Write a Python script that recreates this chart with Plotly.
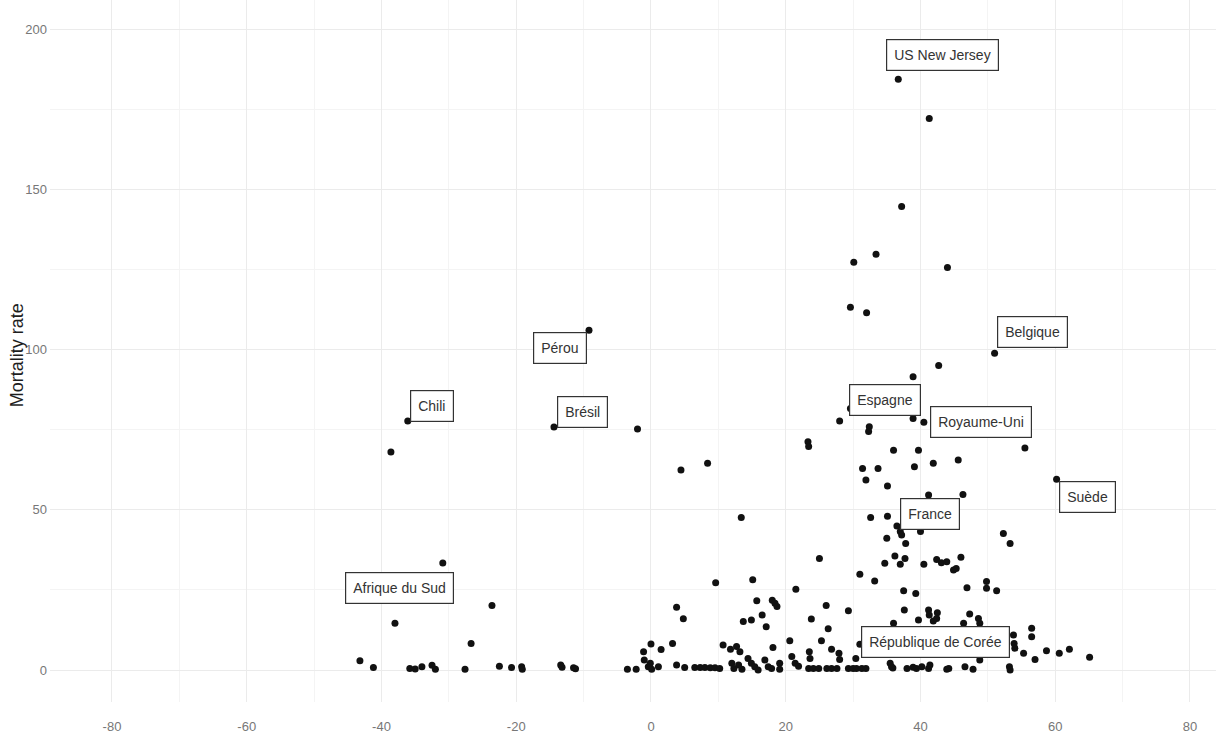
import plotly.graph_objects as go

# Latitude (degrees) and mortality rate for each region
latitude = [
    -43.2, -41.2, -38.6, -38.0, -35.8, -35.0, -34.0, -32.5, -32.0, -27.6,
    -26.7, -23.6, -22.5, -20.7, -19.2, -19.1, -13.4, -13.2, -11.5, -11.2,
    -3.5, -2.2, -2.0, -1.1, -1.0, 0.0, -0.4, 0.1, -0.1, 1.1,
    1.5, 3.2, 3.8, 5.0, 3.8, 4.8, 4.45, 8.4, 6.5, 7.3,
    8.0, 8.8, 9.5, 10.2, 9.6, 10.7, 11.8, 12.7, 13.2, 12.0,
    12.3, 13.0, 13.5, 13.4, 13.7, 14.9, 14.4, 14.9, 15.4, 15.9,
    15.1, 15.7, 16.5, 17.1, 16.9, 17.4, 17.9, 18.0, 18.4, 18.7,
    18.1, 19.1, 19.1, 20.6, 20.9, 21.4, 21.9, 21.5, 23.3, 23.4,
    23.8, 23.5, 23.6, 23.4, 24.1, 24.9, 25.0, 25.3, 26.0, 26.3,
    26.8, 26.1, 26.8, 27.6, 27.9, 28.0, 28.0, 29.3, 29.6, 29.6,
    30.1, 30.4, 31.0, 29.3, 30.0, 30.5, 31.3, 31.9, 31.0, 31.4,
    31.9, 32.0, 32.4, 32.3, 32.6, 33.2, 33.4, 33.7, 34.7, 35.0,
    35.1, 35.1, 35.5, 35.7, 36.0, 36.0, 36.2, 36.5, 37.0, 37.2,
    37.0, 37.7, 37.2, 37.5, 37.6, 37.8, 38.0, 38.9, 39.4, 40.2,
    41.2, 38.9, 38.9, 39.1, 39.3, 39.7, 39.7, 40.0, 40.5, 41.2,
    41.2, 41.3, 41.3, 41.9, 41.9, 42.4, 42.5, 42.4, 42.7, 43.1,
    43.9, 43.9, 44.0, 44.9, 45.3, 45.6, 46.0, 46.4, 46.6, 46.9,
    47.3, 47.8, 48.6, 48.8, 48.8, 49.8, 49.8, 51.3, 52.3, 53.2,
    53.3, 53.3, 53.8, 53.9, 54.0, 55.3, 56.5, 56.5, 57.0, 58.7,
    60.6, 62.1, 65.1, 41.4, 44.2,
]
mortality = [
    2.9, 0.8, 68.0, 14.6, 0.5, 0.3, 1.0, 1.5, 0.2, 0.2,
    8.3, 20.1, 1.2, 0.8, 1.0, 0.2, 1.6, 0.9, 0.7, 0.4,
    0.2, 0.2, 75.2, 5.7, 3.1, 8.1, 1.0, 0.2, 2.1, 1.0,
    6.4, 8.3, 1.6, 0.8, 19.6, 16.0, 62.4, 64.5, 0.8, 0.8,
    0.8, 0.7, 0.7, 0.5, 27.2, 7.8, 6.5, 7.3, 5.7, 2.1,
    0.5, 1.6, 0.2, 47.6, 15.1, 15.6, 3.6, 2.1, 1.0, 0.0,
    28.2, 21.6, 17.2, 13.5, 3.1, 1.0, 0.5, 21.8, 20.8, 19.8,
    7.0, 2.1, 0.2, 9.1, 4.2, 2.1, 1.2, 25.2, 71.2, 69.7,
    15.9, 5.7, 3.6, 0.5, 0.5, 0.5, 34.8, 9.1, 20.1, 12.9,
    6.5, 0.5, 0.5, 0.5, 5.2, 3.3, 77.7, 18.5, 81.6, 113.2,
    127.2, 3.6, 8.0, 0.5, 0.5, 0.5, 0.5, 0.5, 29.9, 62.9,
    59.3, 111.5, 75.9, 74.4, 47.6, 27.8, 129.7, 62.9, 33.3, 41.1,
    48.0, 57.4, 2.1, 1.0, 14.6, 68.6, 35.6, 44.9, 43.2, 42.1,
    33.0, 34.8, 144.6, 24.7, 18.7, 39.5, 0.5, 0.9, 0.5, 1.0,
    0.5, 78.5, 91.5, 63.4, 23.9, 68.6, 15.6, 43.2, 33.0, 54.6,
    18.7, 17.2, 172.1, 64.5, 15.3, 34.5, 17.9, 16.1, 95.0, 33.5,
    33.8, 0.2, 125.6, 31.2, 31.7, 65.5, 35.2, 14.6, 1.0, 25.7,
    17.5, 0.2, 16.1, 14.6, 3.1, 27.6, 25.5, 24.7, 42.6, 1.0,
    0.0, 39.5, 10.9, 8.3, 6.8, 5.2, 13.0, 10.4, 3.3, 6.0,
    5.2, 6.5, 4.0, 1.6, 0.5,
]

# Named regions
label_country = ["US New Jersey", "Chili", "Pérou", "Brésil", "Afrique du Sud",
                 "Belgique", "Espagne", "Royaume-Uni", "France", "Suède",
                 "République de Corée"]
label_lat = [36.7, -36.1, -9.2, -14.4, -30.9, 51.0, 40.5, 55.5, 46.3, 60.2, 35.9]
label_rate = [184.3, 77.7, 106.0, 75.8, 33.4, 98.8, 77.3, 69.3, 54.8, 59.5, 0.6]
# label box offsets from their point, in pixels (repelled placement)
label_dx = [44, 24.5, -29.5, 28.5, -43, 37.5, -38.5, -43.5, -32.5, 30.5, 43]
label_dy = [-24.5, -14.5, 18, -15.5, 25, -21, -22.5, -26, 19.5, 18, -26]

x_ticks = [-80, -60, -40, -20, 0, 20, 40, 60, 80]
y_ticks = [0, 50, 100, 150, 200]

SANS = "Liberation Sans, Arial, sans-serif"

fig = go.Figure()
fig.add_trace(go.Scatter(
    x=latitude + label_lat, y=mortality + label_rate,
    mode="markers",
    marker=dict(color="#111111", size=7, line=dict(width=0)),
    hoverinfo="skip", showlegend=False,
))

for name, lx, ly, dx, dy in zip(label_country, label_lat, label_rate, label_dx, label_dy):
    fig.add_annotation(
        x=lx, y=ly, xref="x", yref="y",
        text=name, showarrow=True, arrowcolor="rgba(0,0,0,0)", arrowwidth=0.1,
        ax=dx, ay=dy, xanchor="center", yanchor="middle",
        font=dict(family=SANS, size=14, color="#333333"),
        bgcolor="white", bordercolor="#333333", borderwidth=1.2, borderpad=7,
    )

fig.add_annotation(
    text="Mortality rate", xref="paper", yref="paper",
    x=-0.0283, y=0.494, textangle=-90, showarrow=False,
    xanchor="center", yanchor="middle",
    font=dict(family=SANS, size=18, color="#1e1e1e"),
)

grid_major = "#ebebeb"
grid_minor = "#f4f4f4"

fig.update_xaxes(
    range=[-89.2, 83.86], tickvals=x_ticks, ticktext=[str(v) for v in x_ticks],
    showgrid=True, gridcolor=grid_major, gridwidth=1.2,
    minor=dict(dtick=10, tick0=0, showgrid=True, gridcolor=grid_minor, gridwidth=1),
    zeroline=False, showline=False, ticks="", ticklabelstandoff=15,
    tickfont=dict(family=SANS, size=13, color="#777777"),
)
fig.update_yaxes(
    range=[-9.98, 209.05], tickvals=y_ticks, ticktext=[str(v) for v in y_ticks],
    showgrid=True, gridcolor=grid_major, gridwidth=1.2,
    minor=dict(dtick=25, tick0=0, showgrid=True, gridcolor=grid_minor, gridwidth=1),
    zeroline=False, showline=False, ticks="", ticklabelstandoff=2,
    tickfont=dict(family=SANS, size=13, color="#777777"),
)

fig.update_layout(
    width=1216, height=737,
    margin=dict(l=50, r=0, t=0, b=35),
    paper_bgcolor="white", plot_bgcolor="white",
    showlegend=False,
)

fig.write_html("out.html")
